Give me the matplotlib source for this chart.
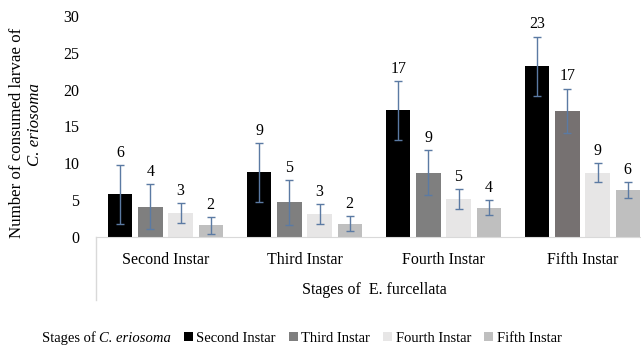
import matplotlib
matplotlib.use("Agg")
import matplotlib.pyplot as plt
import numpy as np
from matplotlib.patches import Patch
from matplotlib.lines import Line2D

categories = ["Second Instar", "Third Instar", "Fourth Instar", "Fifth Instar"]
series_names = ["Second Instar", "Third Instar", "Fourth Instar", "Fifth Instar"]
second_vals = [5.8, 8.8, 17.2, 23.2]
third_vals = [4.1, 4.7, 8.7, 17.1]
fourth_vals = [3.3, 3.1, 5.2, 8.7]
fifth_vals = [1.6, 1.8, 4.0, 6.4]
second_err = [4.0, 4.0, 4.0, 4.0]
third_err = [3.05, 3.05, 3.05, 3.05]
fourth_err = [1.35, 1.35, 1.35, 1.3]
fifth_err = [1.15, 1.0, 1.0, 1.05]
second_lbl = ["6", "9", "17", "23"]
third_lbl = ["4", "5", "9", "17"]
fourth_lbl = ["3", "3", "5", "9"]
fifth_lbl = ["2", "2", "4", "6"]
yticks = [0, 5, 10, 15, 20, 25, 30]

plt.rcParams['font.family'] = ['Liberation Serif', 'DejaVu Serif']

W, H = 641, 347
fig = plt.figure(figsize=(W / 100, H / 100), dpi=100)
ax_l, ax_r, ax_b, ax_t = 96, 652, 237, 16
ax = fig.add_axes([ax_l / W, 1 - ax_b / H, (ax_r - ax_l) / W, (ax_b - ax_t) / H])

vals = [second_vals, third_vals, fourth_vals, fifth_vals]
errs = [second_err, third_err, fourth_err, fifth_err]
lbls = [second_lbl, third_lbl, fourth_lbl, fifth_lbl]
colors = ["#000000", "#7f7f7f", "#e7e6e6", "#bfbfbf"]
third_colors = ["#7f7f7f", "#7f7f7f", "#7f7f7f", "#767171"]
x = np.arange(len(categories))
step = 0.216
width = 0.173
for i in range(4):
    pos = x + (i - 1.5) * step
    col = third_colors if i == 1 else colors[i]
    ax.bar(pos, vals[i], width=width, color=col, zorder=2)
    ax.errorbar(pos, vals[i], yerr=errs[i], fmt='none', ecolor="#5b7aa3",
                elinewidth=1.0, capsize=3, capthick=1.0, zorder=3)
    for p, v, e, t in zip(pos, vals[i], errs[i], lbls[i]):
        ax.annotate(t, (p, v + e), xytext=(0, 3), textcoords="offset points",
                    ha="center", va="bottom", fontsize=11.5, color="#000000")

ax.set_xlim(-0.5, 3.5)
ax.set_ylim(0, 30)
ax.set_yticks(yticks)
ax.set_yticklabels([str(t) for t in yticks], fontsize=11.5)
ax.set_xticks(x)
ax.set_xticklabels(categories, fontsize=11.5)
ax.tick_params(axis='y', length=0, pad=12)
ax.tick_params(axis='x', length=0, pad=11)
for s in ["top", "right", "left"]:
    ax.spines[s].set_visible(False)
ax.spines["bottom"].set_color("#d9d9d9")
ax.add_line(Line2D([0, 0], [0, -63 / 221], transform=ax.transAxes,
                   color="#d9d9d9", lw=1, clip_on=False))

fig.text(((ax_l + ax_r) / 2) / W, 1 - 290 / H, "Stages of  E. furcellata",
         ha="center", va="center", fontsize=11.5)
fig.text(17 / W, 1 - 133 / H, "Number of consumed larvae of", rotation=90,
         ha="center", va="center", fontsize=12.2)
fig.text(35 / W, 1 - 125 / H, "C. eriosoma", rotation=90, style="italic",
         ha="center", va="center", fontsize=12.2)

# bottom legend
fig.text(42 / W, 1 - 338 / H, "Stages of ", ha="left", va="center", fontsize=10.5)
fig.text(99 / W, 1 - 338 / H, "C. eriosoma", ha="left", va="center",
         fontsize=10.5, style="italic")
handles = [Patch(facecolor=c, edgecolor="none") for c in colors]
fig.legend(handles, series_names, loc="center left", bbox_to_anchor=(184 / W, 1 - 338 / H),
           ncol=4, frameon=False, fontsize=10.5, handlelength=0.6, handleheight=0.6,
           handletextpad=0.25, columnspacing=0.9, borderaxespad=0, borderpad=0)

fig.savefig("out.png", dpi=100)
